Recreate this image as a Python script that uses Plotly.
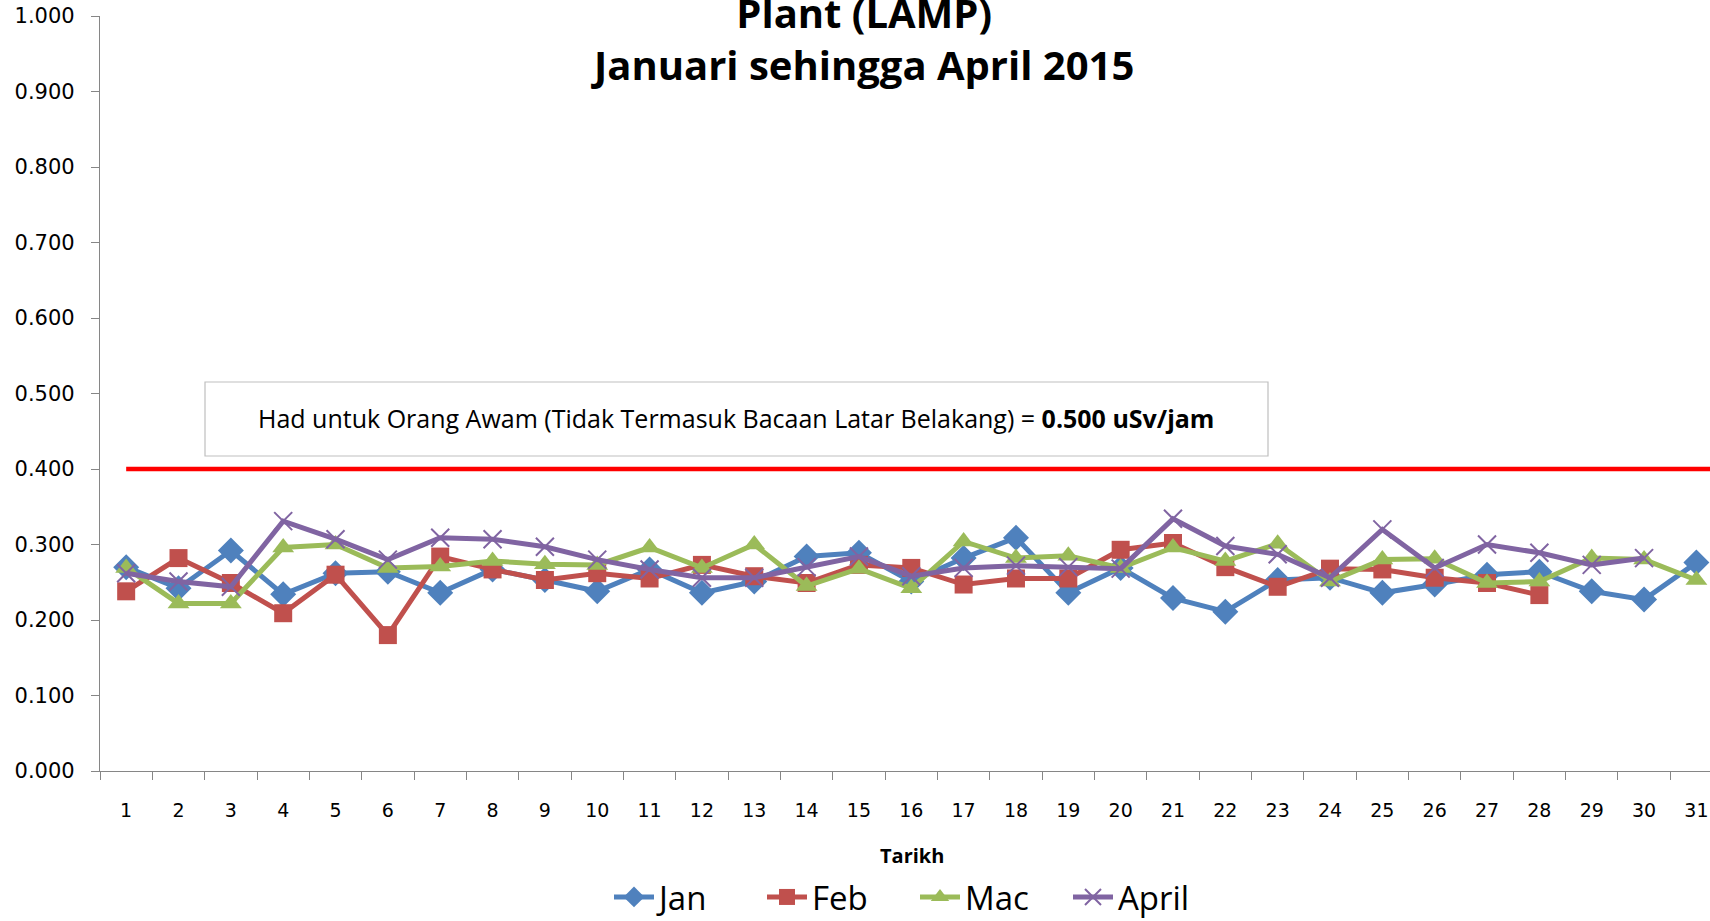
import plotly.graph_objects as go

# ---------------- data ----------------
days = list(range(1, 32))
jan = [0.270, 0.242, 0.292, 0.234, 0.262, 0.264, 0.236, 0.267, 0.253, 0.238,
       0.267, 0.236, 0.251, 0.284, 0.289, 0.251, 0.282, 0.309, 0.236, 0.269,
       0.229, 0.211, 0.253, 0.256, 0.236, 0.247, 0.260, 0.264, 0.238, 0.227, 0.276]
feb = [0.238, 0.282, 0.249, 0.209, 0.260, 0.180, 0.284, 0.267, 0.253, 0.262,
       0.255, 0.273, 0.258, 0.249, 0.273, 0.269, 0.247, 0.255, 0.255, 0.293,
       0.302, 0.270, 0.244, 0.268, 0.267, 0.256, 0.249, 0.233]
mac = [0.269, 0.222, 0.222, 0.296, 0.300, 0.269, 0.271, 0.278, 0.274, 0.273,
       0.296, 0.269, 0.300, 0.245, 0.268, 0.242, 0.304, 0.282, 0.285, 0.269,
       0.296, 0.278, 0.301, 0.251, 0.280, 0.281, 0.249, 0.251, 0.282, 0.280, 0.253]
april = [0.262, 0.251, 0.244, 0.331, 0.307, 0.280, 0.309, 0.307, 0.297, 0.280,
         0.267, 0.256, 0.256, 0.270, 0.284, 0.258, 0.269, 0.272, 0.270, 0.268,
         0.334, 0.298, 0.287, 0.256, 0.320, 0.269, 0.300, 0.289, 0.273, 0.282]
series_names = ["Jan", "Feb", "Mac", "April"]
limit_value = 0.400
limit_days = [1, 31.5]
y_ticks = [0.0, 0.1, 0.2, 0.3, 0.4, 0.5, 0.6, 0.7, 0.8, 0.9, 1.0]

title_line1 = "Plant (LAMP)"
title_line2 = "Januari sehingga April 2015"
x_title = "Tarikh"
box_text = "Had untuk Orang Awam (Tidak Termasuk Bacaan Latar Belakang) = <b>0.500 uSv/jam</b>"

# ---------------- layout geometry ----------------
W, H = 1710, 921
L, R, T, B = 100, 0, 16, 150
PW, PH = W - L - R, H - T - B


def px_x(px):
    return (px - L) / PW


def px_y(py):
    return (H - B - py) / PH


FONT = "Open Sans"
TICKFONT = "DejaVu Sans"
colors = ["#4F81BD", "#C0504D", "#9BBB59", "#8064A2"]
symbols = ["diamond", "square", "triangle-up", "x-thin"]
sizes = [20, 18, 19, 18]

fig = go.Figure()

fig.add_trace(go.Scatter(
    x=limit_days, y=[limit_value] * len(limit_days), mode="lines",
    line=dict(color="#FF0000", width=4.5), showlegend=False, hoverinfo="skip"))

for name, vals, c, s, sz in zip(series_names, [jan, feb, mac, april], colors, symbols, sizes):
    marker = dict(symbol=s, size=sz, color=c)
    if s == "x-thin":
        marker["line"] = dict(color=c, width=2)
    fig.add_trace(go.Scatter(
        x=days[:len(vals)], y=vals, mode="lines+markers", name=name,
        line=dict(color=c, width=5), marker=marker))

fig.update_layout(
    width=W, height=H,
    margin=dict(l=L, r=R, t=T, b=B),
    paper_bgcolor="white", plot_bgcolor="white",
    font=dict(family=FONT, color="black"),
    legend=dict(orientation="h", xref="container", yref="container",
                x=915 / W, y=1 - 897 / H, xanchor="center", yanchor="middle",
                font=dict(size=33, family=FONT), itemwidth=40, tracegroupgap=0,
                entrywidth=98, entrywidthmode="pixels"),
    xaxis=dict(range=[0.5, 31 + (W - 1696.4) / 52.33], tickmode="array",
               tickvals=days, ticktext=[str(d) for d in days], ticks="",
               showline=True, linecolor="#868686", linewidth=1.2,
               showgrid=False, zeroline=False, ticklabelstandoff=22,
               tickfont=dict(size=19, family=TICKFONT),
               minor=dict(tickmode="array", tickvals=[d - 0.5 for d in days] + [31.5],
                          ticks="outside", ticklen=8, tickcolor="#868686", showgrid=False)),
    yaxis=dict(range=[0, 1], tickmode="array", tickvals=y_ticks,
               ticktext=[f"{v:.3f}" for v in y_ticks], ticks="outside", ticklen=8,
               tickcolor="#868686", showline=True, linecolor="#868686", linewidth=1.2,
               showgrid=False, zeroline=False, ticklabelstandoff=12,
               tickfont=dict(size=21, family=TICKFONT)),
)

# text box
fig.add_shape(type="rect", xref="paper", yref="paper",
              x0=px_x(205), x1=px_x(1268), y0=px_y(456), y1=px_y(382),
              line=dict(color="#BFBFBF", width=1.2), fillcolor="white", layer="below")
fig.add_annotation(xref="paper", yref="paper", x=px_x(736), y=px_y(418),
                   text=box_text, showarrow=False, xanchor="center", yanchor="middle",
                   font=dict(size=25, family=FONT, color="black"))

# two-line title (first line partly cut off at the top, as in the reference)
fig.add_annotation(xref="paper", yref="paper", x=px_x(862), y=px_y(38.5),
                   text=f"<b>{title_line1}<br>{title_line2}</b>", showarrow=False,
                   xanchor="center", yanchor="middle", align="center",
                   font=dict(size=40, family=FONT, color="black"))
fig.add_annotation(xref="paper", yref="paper", x=px_x(912), y=px_y(855),
                   text=f"<b>{x_title}</b>", showarrow=False,
                   xanchor="center", yanchor="middle",
                   font=dict(size=20, family=FONT, color="black"))

fig.write_html("out.html", config={"displayModeBar": False},
               post_script="document.body.style.margin='0px';")
